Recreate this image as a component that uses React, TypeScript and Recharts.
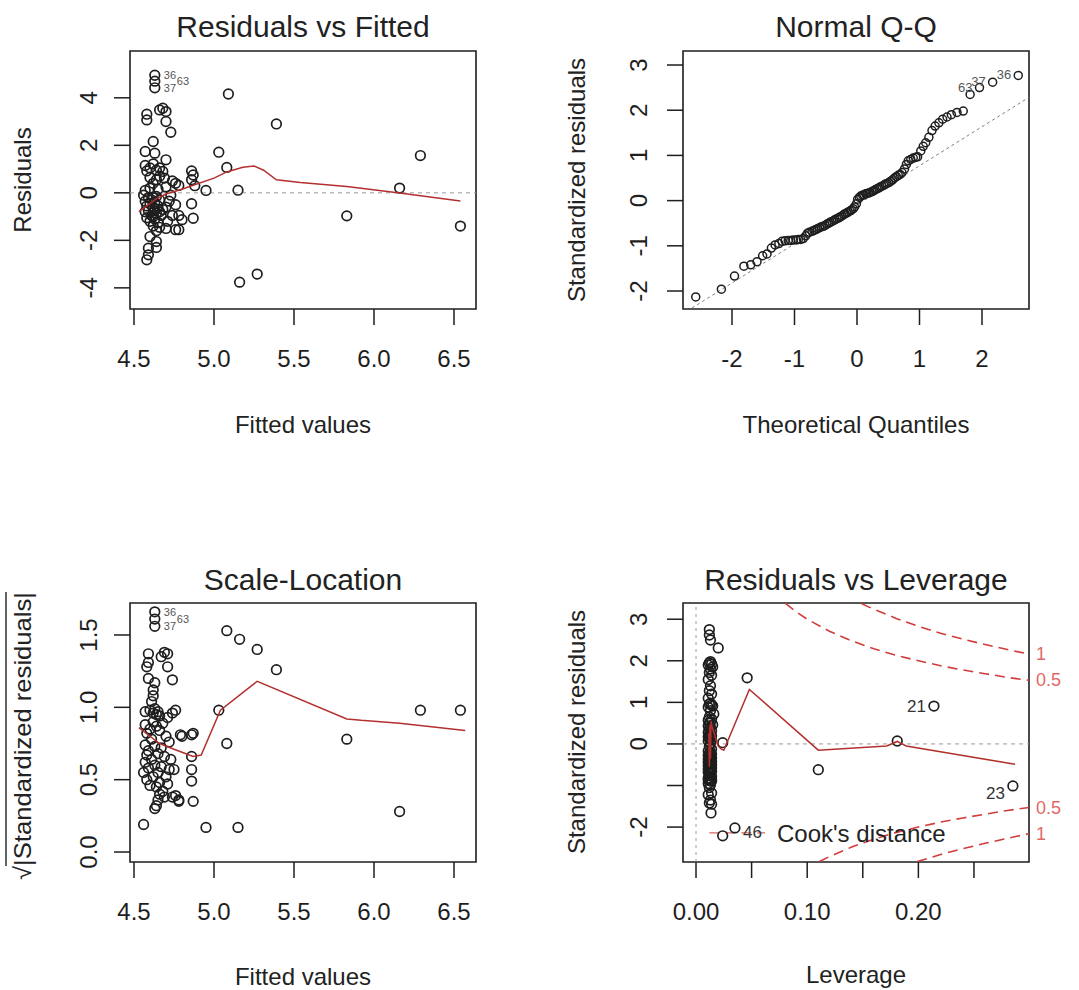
import React from 'react'
import { ReferenceArea, ReferenceLine, Scatter, ScatterChart, XAxis, YAxis } from 'recharts'

const FONT = '"Liberation Sans", Arial, sans-serif'
const INK = '#1e1e1e'
const LOESS = '#b3302f'
const COOK = '#d23c3c'
const COOK_TEXT = '#e06a64'
const GUIDE = '#9a9a9a'

type Pt = [number, number]

// ---- Residuals vs Fitted: [fitted, residual]
const rvfPoints: Pt[] = [
  [4.58, 3.31], [4.58, 3.07], [4.66, 3.49], [4.68, 3.56], [4.7, 3.42], [4.7, 3.0], [4.73, 2.55],
  [4.62, 2.16], [4.57, 1.74], [4.63, 1.67], [4.7, 1.39],
  [4.57, 1.15], [4.6, 1.05], [4.62, 1.22], [4.64, 0.95], [4.66, 1.05], [4.68, 0.9], [4.58, 0.92],
  [4.6, 0.65], [4.64, 0.55], [4.66, 0.7], [4.69, 0.62], [4.62, 0.4], [4.74, 0.5], [4.76, 0.4],
  [4.78, 0.31], [4.86, 0.92], [4.87, 0.75], [4.86, 0.55], [4.88, 0.3], [4.95, 0.1],
  [4.57, 0.1], [4.6, 0.2], [4.65, 0.15], [4.7, 0.25],
  [4.56, -0.1], [4.57, -0.35], [4.58, -0.55], [4.59, -0.75], [4.6, -0.45], [4.61, -0.95], [4.62, -0.2],
  [4.62, -0.65], [4.63, -1.1], [4.63, -0.4], [4.64, -0.85], [4.65, -1.25], [4.65, -0.55], [4.66, -0.3],
  [4.66, -1.45], [4.67, -0.95], [4.68, -0.7], [4.6, -1.2], [4.58, -1.05], [4.62, -1.4], [4.64, -1.6],
  [4.57, -0.8], [4.61, -0.3], [4.63, -0.75], [4.64, -0.15], [4.59, -0.2], [4.66, -0.8], [4.62, -1.0],
  [4.72, -0.35], [4.7, -0.6], [4.74, -0.95], [4.71, -1.2], [4.76, -0.5], [4.78, -0.95], [4.8, -1.13],
  [4.76, -1.55], [4.78, -1.55], [4.86, -0.46], [4.87, -1.07], [4.7, -1.5], [4.73, -0.1],
  [4.6, -1.84], [4.64, -2.05], [4.59, -2.33], [4.64, -2.3], [4.59, -2.61], [4.58, -2.82],
  [5.03, 1.71], [5.08, 1.07], [5.09, 4.16], [5.39, 2.9], [5.15, 0.11], [5.16, -3.76], [5.27, -3.42],
  [5.83, -0.97], [6.16, 0.2], [6.29, 1.57], [6.54, -1.4],
]
const rvfTagged: Pt[] = [[4.63, 4.95], [4.63, 4.7], [4.63, 4.42]]
const rvfTagIds = ['36', '63', '37']
const rvfSmooth: Pt[] = [
  [4.53, -0.79], [4.58, -0.55], [4.64, -0.25], [4.7, -0.05], [4.8, 0.15], [4.87, 0.32], [5.0, 0.62],
  [5.08, 0.88], [5.18, 1.08], [5.25, 1.13], [5.31, 0.95], [5.39, 0.55], [5.54, 0.43], [5.83, 0.27],
  [6.16, -0.01], [6.54, -0.34],
]
const fittedTicks = [4.5, 5.0, 5.5, 6.0, 6.5]
const residTicks = [-4, -2, 0, 2, 4]

// ---- Normal Q-Q: theoretical quantile, standardized residual
const qqTheoretical = [
  -2.58, -2.17, -1.96, -1.81, -1.7, -1.6, -1.51, -1.44, -1.37, -1.31, -1.25, -1.2, -1.15, -1.1, -1.06,
  -1.02, -0.97, -0.94, -0.9, -0.86, -0.82, -0.79, -0.76, -0.72, -0.69, -0.66, -0.63, -0.6, -0.57, -0.54,
  -0.51, -0.48, -0.45, -0.43, -0.4, -0.37, -0.35, -0.32, -0.29, -0.27, -0.24, -0.21, -0.19, -0.16, -0.14,
  -0.11, -0.09, -0.06, -0.04, -0.01, 0.01, 0.04, 0.06, 0.09, 0.11, 0.14, 0.16, 0.19, 0.21, 0.24, 0.27,
  0.29, 0.32, 0.35, 0.37, 0.4, 0.43, 0.45, 0.48, 0.51, 0.54, 0.57, 0.6, 0.63, 0.66, 0.69, 0.72, 0.76,
  0.79, 0.82, 0.86, 0.9, 0.94, 0.97, 1.02, 1.06, 1.1, 1.15, 1.2, 1.25, 1.31, 1.37, 1.44, 1.51, 1.6, 1.7,
  1.81, 1.96, 2.17, 2.58,
]
const qqSample = [
  -2.13, -1.96, -1.67, -1.45, -1.42, -1.35, -1.22, -1.18, -1.05, -0.98, -0.95, -0.9, -0.89, -0.88, -0.88,
  -0.87, -0.87, -0.86, -0.86, -0.84, -0.78, -0.72, -0.7, -0.68, -0.66, -0.64, -0.62, -0.6, -0.58, -0.57,
  -0.55, -0.52, -0.5, -0.48, -0.46, -0.44, -0.42, -0.4, -0.38, -0.36, -0.34, -0.31, -0.29, -0.27, -0.25,
  -0.23, -0.21, -0.18, -0.14, -0.07, 0.03, 0.07, 0.1, 0.12, 0.13, 0.15, 0.16, 0.17, 0.18, 0.2, 0.22,
  0.24, 0.26, 0.28, 0.3, 0.32, 0.34, 0.36, 0.38, 0.4, 0.43, 0.46, 0.5, 0.53, 0.56, 0.58, 0.62, 0.7,
  0.8, 0.88, 0.91, 0.94, 0.96, 0.97, 1.1, 1.2, 1.28, 1.4, 1.55, 1.65, 1.72, 1.8, 1.85, 1.9, 1.95, 1.98,
  2.35, 2.5, 2.62, 2.77,
]
const qqTagIds = ['63', '37', '36']
const qqLine: Pt[] = [[-2.64, -2.375], [2.75, 2.283]]
const qqXTicks = [-2, -1, 0, 1, 2]
const qqYTicks = [-2, -1, 0, 1, 2, 3]

// ---- Scale-Location: [fitted, sqrt|std residual|]
const slPoints: Pt[] = [
  [5.08, 1.53], [5.16, 1.47], [5.27, 1.4], [5.39, 1.26], [5.03, 0.98], [5.08, 0.75], [5.83, 0.78],
  [6.29, 0.98], [6.54, 0.98], [6.16, 0.28], [4.56, 0.19], [4.95, 0.17], [5.15, 0.17],
  [4.86, 0.81], [4.87, 0.82], [4.79, 0.81], [4.8, 0.8], [4.86, 0.66], [4.86, 0.57], [4.86, 0.49],
  [4.87, 0.35], [4.78, 0.35], [4.76, 0.39], [4.75, 0.57],
  [4.69, 1.38], [4.71, 1.37], [4.67, 1.35], [4.59, 1.37], [4.59, 1.31], [4.58, 1.28], [4.71, 1.28],
  [4.74, 1.19], [4.59, 1.2], [4.63, 1.17], [4.62, 1.12], [4.62, 1.08], [4.61, 1.04],
  [4.57, 0.97], [4.6, 0.98], [4.62, 0.96], [4.63, 0.99], [4.64, 0.95], [4.65, 0.97], [4.66, 0.94],
  [4.71, 0.93], [4.74, 0.96], [4.76, 0.98],
  [4.57, 0.88], [4.58, 0.82], [4.6, 0.85], [4.62, 0.9], [4.64, 0.87], [4.66, 0.84], [4.68, 0.89],
  [4.7, 0.8], [4.72, 0.76], [4.57, 0.74], [4.59, 0.7], [4.61, 0.78], [4.63, 0.73], [4.65, 0.68],
  [4.67, 0.72], [4.69, 0.66], [4.73, 0.64], [4.57, 0.62], [4.59, 0.58], [4.61, 0.64], [4.63, 0.6],
  [4.65, 0.55], [4.67, 0.59], [4.7, 0.52], [4.72, 0.57], [4.58, 0.5], [4.6, 0.46], [4.62, 0.52],
  [4.64, 0.45], [4.66, 0.48], [4.68, 0.42], [4.71, 0.47], [4.56, 0.55], [4.58, 0.67],
  [4.64, 0.32], [4.65, 0.36], [4.69, 0.38], [4.74, 0.38], [4.78, 0.36], [4.63, 0.3], [4.66, 0.4],
]
const slTagged: Pt[] = [[4.63, 1.66], [4.63, 1.61], [4.63, 1.56]]
const slSmooth: Pt[] = [
  [4.53, 0.86], [4.6, 0.8], [4.66, 0.75], [4.75, 0.71], [4.8, 0.69], [4.87, 0.66], [4.92, 0.67],
  [5.04, 0.98], [5.27, 1.18], [5.83, 0.92], [5.92, 0.91], [6.16, 0.89], [6.57, 0.84],
]
const slTicks = [0, 0.5, 1.0, 1.5]

// ---- Residuals vs Leverage: [leverage, std residual]
const rvlPoints: Pt[] = [
  [0.012, 2.75], [0.012, 2.62], [0.013, 2.5], [0.02, 2.31],
  [0.013, 1.98], [0.012, 1.95], [0.014, 1.92], [0.011, 1.9], [0.015, 1.85], [0.013, 1.8], [0.012, 1.72],
  [0.014, 1.65], [0.011, 1.55], [0.013, 1.4], [0.012, 1.28], [0.014, 1.2], [0.011, 1.1], [0.013, 0.98],
  [0.012, 0.96], [0.014, 0.94], [0.015, 0.91], [0.011, 0.88], [0.013, 0.8], [0.016, 0.72], [0.012, 0.65],
  [0.014, 0.6], [0.011, 0.57], [0.013, 0.53], [0.012, 0.5], [0.015, 0.46], [0.011, 0.43], [0.013, 0.4],
  [0.012, 0.36], [0.014, 0.32], [0.011, 0.28], [0.013, 0.25], [0.012, 0.22], [0.014, 0.19], [0.011, 0.17],
  [0.013, 0.15], [0.012, 0.12], [0.014, 0.1], [0.011, 0.07], [0.013, 0.02],
  [0.012, -0.06], [0.014, -0.13], [0.011, -0.17], [0.013, -0.2], [0.012, -0.23], [0.014, -0.25],
  [0.011, -0.27], [0.013, -0.29], [0.012, -0.31], [0.014, -0.34], [0.011, -0.36], [0.013, -0.38],
  [0.012, -0.4], [0.014, -0.42], [0.011, -0.44], [0.013, -0.46], [0.012, -0.48], [0.014, -0.5],
  [0.011, -0.52], [0.013, -0.55], [0.012, -0.57], [0.014, -0.58], [0.011, -0.6], [0.013, -0.62],
  [0.012, -0.64], [0.014, -0.66], [0.011, -0.68], [0.013, -0.7], [0.012, -0.72], [0.014, -0.78],
  [0.011, -0.82], [0.013, -0.84], [0.012, -0.85], [0.014, -0.86], [0.011, -0.87], [0.013, -0.87],
  [0.012, -0.88], [0.014, -0.9], [0.011, -0.95], [0.013, -0.98], [0.012, -1.05], [0.014, -1.18],
  [0.011, -1.22], [0.013, -1.35], [0.012, -1.42], [0.014, -1.45], [0.0135, -1.66],
  [0.024, -2.21], [0.046, 1.59], [0.024, 0.03], [0.11, -0.62], [0.181, 0.07],
]
const rvlTagged = [
  { x: 0.214, y: 0.91, id: '21', side: 'left', dy: 6 },
  { x: 0.285, y: -1.01, id: '23', side: 'left', dy: 13 },
  { x: 0.035, y: -2.02, id: '46', side: 'right', dy: 10 },
]
const rvlSmooth: Pt[] = [
  [0.0115, 0.25], [0.012, -0.55], [0.0125, 0.45], [0.013, -0.35], [0.0135, 0.55], [0.0145, 0.4],
  [0.02, -0.05], [0.0225, -0.12], [0.025, -0.15], [0.048, 1.31], [0.11, -0.15], [0.1715, -0.05],
  [0.181, 0.06], [0.189, -0.05], [0.287, -0.49],
]
const cookHalfUpper: Pt[] = [
  [0.0805, 3.38], [0.09, 3.18], [0.1, 3.0], [0.12, 2.71], [0.14, 2.48], [0.16, 2.29], [0.18, 2.13],
  [0.2, 2.0], [0.22, 1.88], [0.24, 1.78], [0.26, 1.69], [0.28, 1.6], [0.2995, 1.53],
]
const cookOneUpper: Pt[] = [
  [0.149, 3.37], [0.16, 3.24], [0.18, 3.02], [0.2, 2.83], [0.22, 2.66], [0.24, 2.52], [0.26, 2.39],
  [0.28, 2.27], [0.2995, 2.16],
]
const cookHalfLower: Pt[] = [
  [0.111, -2.83], [0.12, -2.71], [0.14, -2.48], [0.16, -2.29], [0.18, -2.13], [0.2, -2.0], [0.22, -1.88],
  [0.24, -1.78], [0.26, -1.69], [0.28, -1.6], [0.2995, -1.53],
]
const cookOneLower: Pt[] = [
  [0.199, -2.83], [0.22, -2.66], [0.24, -2.52], [0.26, -2.39], [0.28, -2.27], [0.2995, -2.16],
]
const cookLevels = ['0.5', '1', '0.5', '1']
const levTicks = [0, 0.05, 0.1, 0.15, 0.2, 0.25]
const levLabelled = [0, 0.1, 0.2]
const stdTicks = [-2, -1, 0, 1, 2, 3]

const xy = (pts: Pt[]) => pts.map(([x, y]) => ({ x, y }))
const tagged = (pts: Pt[], ids: string[]) => pts.map(([x, y], i) => ({ x, y, id: ids[i], i }))

const ring = (r: number, w = 1.7) => (p: any) => (
  <circle cx={p.cx} cy={p.cy} r={r} fill="none" stroke={INK} strokeWidth={w} />
)
const blank = () => <g />

// the three stacked ids: outer two sit beside the points, the middle one is pushed right
const rightTag = (p: any) => {
  const mid = p.payload.i === 1
  return (
    <g>
      <circle cx={p.cx} cy={p.cy} r={4.8} fill="none" stroke={INK} strokeWidth={1.7} />
      <text x={p.cx + (mid ? 22 : 9)} y={p.cy + 4} fontSize={11} fill="#555">{p.payload.id}</text>
    </g>
  )
}
const leftTag = (p: any) => (
  <g>
    <circle cx={p.cx} cy={p.cy} r={4} fill="none" stroke={INK} strokeWidth={1.5} />
    <text x={p.cx - 7} y={p.cy + 4} fontSize={13} fill="#555" textAnchor="end">{p.payload.id}</text>
  </g>
)
const levTag = (p: any) => {
  const d = p.payload
  const left = d.side === 'left'
  return (
    <g>
      <circle cx={p.cx} cy={p.cy} r={4.8} fill="none" stroke={INK} strokeWidth={1.7} />
      <text x={left ? p.cx - 8 : p.cx + 8} y={p.cy + d.dy} fontSize={17} fill="#333" textAnchor={left ? 'end' : 'start'}>
        {d.id}
      </text>
    </g>
  )
}
const cookTag = (p: any) => (
  <text x={p.cx + 7} y={p.cy + 6} fontSize={18} fill={COOK_TEXT}>{p.payload.id}</text>
)

const yTick = (fmt: (v: number) => string) => (p: any) => (
  <text x={p.x} y={p.y} transform={`rotate(-90 ${p.x} ${p.y})`} textAnchor="middle" fontSize={24} fill={INK}>
    {fmt(p.payload.value)}
  </text>
)

type PanelProps = {
  left: number
  top: number
  width: number
  height: number
  margin: { top: number; right: number; bottom: number; left: number }
  xDomain: [number, number]
  yDomain: [number, number]
  xTicks: number[]
  yTicks: number[]
  xFmt: (v: number) => string
  yFmt: (v: number) => string
  yTickMargin: number
  children: React.ReactNode
}

function Panel(props: PanelProps) {
  const { xDomain, yDomain } = props
  const tickLine = { stroke: INK, strokeWidth: 1.5 }
  return (
    <div style={{ position: 'absolute', left: props.left, top: props.top }}>
      <ScatterChart width={props.width} height={props.height} margin={props.margin}>
        <XAxis
          type="number"
          dataKey="x"
          domain={xDomain}
          ticks={props.xTicks}
          tickFormatter={props.xFmt}
          interval={0}
          axisLine={false}
          tickLine={tickLine}
          tickSize={16}
          tickMargin={25}
          height={60}
          tick={{ fontSize: 24, fill: INK }}
        />
        <YAxis
          type="number"
          dataKey="y"
          domain={yDomain}
          ticks={props.yTicks}
          interval={0}
          axisLine={false}
          tickLine={tickLine}
          tickSize={16}
          tickMargin={props.yTickMargin}
          width={80}
          tick={yTick(props.yFmt)}
        />
        <ReferenceArea
          x1={xDomain[0]}
          x2={xDomain[1]}
          y1={yDomain[0]}
          y2={yDomain[1]}
          fill="none"
          stroke={INK}
          strokeWidth={1.6}
          ifOverflow="visible"
        />
        {props.children}
      </ScatterChart>
    </div>
  )
}

const one = (v: number) => v.toFixed(1)
const int = (v: number) => String(v)

export default function App() {
  const qqData = qqTheoretical.map((x, i) => ({ x, y: qqSample[i] }))
  const qqTop = qqData.slice(-3).map((d, i) => ({ ...d, id: qqTagIds[i] }))
  const cookEnds = [cookHalfUpper, cookOneUpper, cookHalfLower, cookOneLower].map((c, i) => {
    const [x, y] = c[c.length - 1]
    return { x, y, id: cookLevels[i] }
  })
  const titleStyle = { fontSize: 30, fill: '#222', textAnchor: 'middle' as const }
  const axisStyle = { fontSize: 24, fill: '#222', textAnchor: 'middle' as const }

  return (
    <div style={{ position: 'absolute', left: 0, top: 0, width: 1079, height: 990, background: '#fff', fontFamily: FONT }}>
      <Panel
        left={0}
        top={0}
        width={540}
        height={480}
        margin={{ top: 51, right: 64, bottom: 111, left: 50 }}
        xDomain={[4.475, 6.6375]}
        yDomain={[-4.89, 5.97]}
        xTicks={fittedTicks}
        yTicks={residTicks}
        xFmt={one}
        yFmt={int}
        yTickMargin={17}
      >
        <ReferenceLine y={0} stroke={GUIDE} strokeDasharray="4 4" />
        <Scatter data={xy(rvfPoints)} shape={ring(4.8)} isAnimationActive={false} />
        <Scatter data={tagged(rvfTagged, rvfTagIds)} shape={rightTag} isAnimationActive={false} />
        <Scatter data={xy(rvfSmooth)} line={{ stroke: LOESS, strokeWidth: 1.5 }} lineJointType="linear" shape={blank} isAnimationActive={false} />
      </Panel>

      <Panel
        left={540}
        top={0}
        width={539}
        height={480}
        margin={{ top: 51, right: 50, bottom: 111, left: 63 }}
        xDomain={[-2.784, 2.752]}
        yDomain={[-2.398, 3.31]}
        xTicks={qqXTicks}
        yTicks={qqYTicks}
        xFmt={int}
        yFmt={int}
        yTickMargin={20}
      >
        <ReferenceLine segment={qqLine.map(([x, y]) => ({ x, y }))} stroke="#808080" strokeDasharray="3 3" />
        <Scatter data={qqData.slice(0, -3)} shape={ring(4, 1.5)} isAnimationActive={false} />
        <Scatter data={qqTop} shape={leftTag} isAnimationActive={false} />
      </Panel>

      <Panel
        left={0}
        top={480}
        width={540}
        height={510}
        margin={{ top: 123, right: 64, bottom: 68, left: 50 }}
        xDomain={[4.475, 6.6375]}
        yDomain={[-0.069, 1.721]}
        xTicks={fittedTicks}
        yTicks={slTicks}
        xFmt={one}
        yFmt={one}
        yTickMargin={17}
      >
        <Scatter data={xy(slPoints)} shape={ring(4.8)} isAnimationActive={false} />
        <Scatter data={tagged(slTagged, rvfTagIds)} shape={rightTag} isAnimationActive={false} />
        <Scatter data={xy(slSmooth)} line={{ stroke: LOESS, strokeWidth: 1.5 }} lineJointType="linear" shape={blank} isAnimationActive={false} />
      </Panel>

      <Panel
        left={540}
        top={480}
        width={539}
        height={510}
        margin={{ top: 123, right: 50, bottom: 68, left: 63 }}
        xDomain={[-0.0117, 0.2995]}
        yDomain={[-2.84, 3.39]}
        xTicks={levTicks}
        yTicks={stdTicks}
        xFmt={(v) => (levLabelled.includes(v) ? v.toFixed(2) : '')}
        yFmt={(v) => (v === -1 ? '' : String(v))}
        yTickMargin={20}
      >
        <ReferenceLine y={0} stroke={GUIDE} strokeDasharray="4 4" />
        <ReferenceLine x={0} stroke={GUIDE} strokeDasharray="3 4" />
        {[cookHalfUpper, cookOneUpper, cookHalfLower, cookOneLower].map((c, i) => (
          <Scatter
            key={i}
            data={xy(c)}
            line={{ stroke: COOK, strokeWidth: 1.6, strokeDasharray: '10 6' }}
            lineJointType="linear"
            shape={blank}
            isAnimationActive={false}
          />
        ))}
        <ReferenceLine segment={[{ x: 0.012, y: -2.14 }, { x: 0.062, y: -2.14 }]} stroke={COOK} strokeDasharray="10 6" />
        <Scatter data={xy(rvlPoints)} shape={ring(4.8)} isAnimationActive={false} />
        <Scatter data={rvlTagged} shape={levTag} isAnimationActive={false} />
        <Scatter data={xy(rvlSmooth)} line={{ stroke: LOESS, strokeWidth: 1.5 }} lineJointType="linear" shape={blank} isAnimationActive={false} />
        <Scatter data={cookEnds} shape={cookTag} isAnimationActive={false} />
      </Panel>

      <svg width={1079} height={990} style={{ position: 'absolute', left: 0, top: 0, pointerEvents: 'none' }}>
        <text x={303} y={37} {...titleStyle}>Residuals vs Fitted</text>
        <text x={856} y={37} {...titleStyle}>Normal Q-Q</text>
        <text x={303} y={590} {...titleStyle}>Scale-Location</text>
        <text x={856} y={590} {...titleStyle}>Residuals vs Leverage</text>

        <text x={303} y={433} {...axisStyle}>Fitted values</text>
        <text x={856} y={433} {...axisStyle}>Theoretical Quantiles</text>
        <text x={303} y={985} {...axisStyle}>Fitted values</text>
        <text x={856} y={983} {...axisStyle}>Leverage</text>

        <text x={31} y={180} transform="rotate(-90 31 180)" {...axisStyle}>Residuals</text>
        <text x={585} y={180} transform="rotate(-90 585 180)" {...axisStyle}>Standardized residuals</text>
        <text x={585} y={732} transform="rotate(-90 585 732)" {...axisStyle}>Standardized residuals</text>
        <g transform="rotate(-90 31 736)">
          <text x={31 - 144} y={736} fontSize={24} fill="#222" textLength={288} lengthAdjust="spacingAndGlyphs">
            √|Standardized residuals|
          </text>
          <line x1={31 - 130} y1={736 - 25} x2={31 + 144} y2={736 - 25} stroke="#222" strokeWidth={1.4} />
        </g>

        <text x={777} y={842} fontSize={24} fill="#222">Cook's distance</text>
      </svg>
    </div>
  )
}
